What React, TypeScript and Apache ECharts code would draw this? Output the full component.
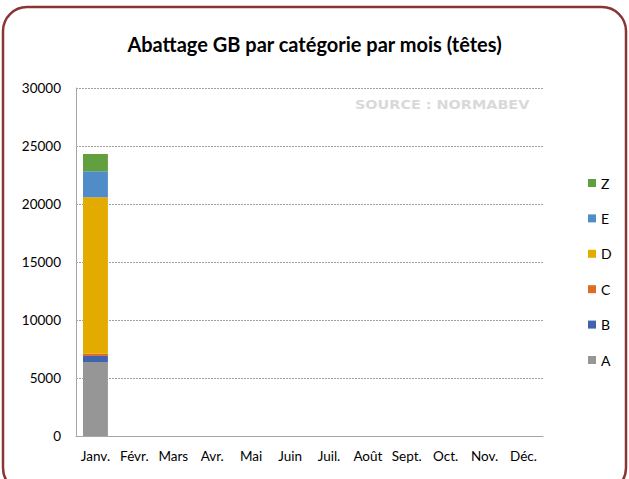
import React, { useEffect, useRef } from "react";
import * as echarts from "echarts";

const months = ["Janv.", "Févr.", "Mars", "Avr.", "Mai", "Juin", "Juil.", "Août", "Sept.", "Oct.", "Nov.", "Déc."];
const catA = [6380, null, null, null, null, null, null, null, null, null, null, null];
const catB = [520, null, null, null, null, null, null, null, null, null, null, null];
const catC = [200, null, null, null, null, null, null, null, null, null, null, null];
const catD = [13480, null, null, null, null, null, null, null, null, null, null, null];
const catE = [2240, null, null, null, null, null, null, null, null, null, null, null];
const catZ = [1490, null, null, null, null, null, null, null, null, null, null, null];
const yTicks = { min: 0, max: 30000, interval: 5000 };

const FONT = "Lato, 'Open Sans', sans-serif";

export default function App() {
  const ref = useRef<HTMLDivElement>(null);
  useEffect(() => {
    if (!ref.current) return;
    const chart = echarts.init(ref.current, null, { renderer: "svg" });
    const mk = (name: string, data: any[], color: string) => ({
      name,
      type: "bar",
      stack: "total",
      data,
      barWidth: "64%",
      itemStyle: { color },
    });
    chart.setOption({
      animation: false,
      backgroundColor: "#ffffff",
      textStyle: { fontFamily: FONT },
      title: {
        text: "Abattage GB par catégorie par mois (têtes)",
        left: "center",
        top: 29,
        textStyle: { fontSize: 20, fontWeight: "bold", color: "#000", fontFamily: FONT },
      },
      graphic: [
        {
          type: "rect",
          shape: { x: 3, y: 7, width: 623, height: 485, r: 24 },
          style: { fill: "none", stroke: "#8a3535", lineWidth: 2.5 },
          silent: true,
        },
        {
          type: "text",
          x: 355,
          y: 99,
          scaleX: 1.2,
          style: {
            text: "SOURCE : NORMABEV",
            fill: "#d9d9d9",
            font: "bold 12px 'DejaVu Sans', sans-serif",
          },
        },
      ],
      legend: {
        orient: "vertical",
        left: 583,
        top: 171,
        itemWidth: 8,
        itemHeight: 8,
        itemGap: 21.4,
        icon: "rect",
        data: ["Z", "E", "D", "C", "B", "A"],
        textStyle: { fontSize: 14, color: "#000", fontFamily: FONT },
      },
      grid: { left: 76, right: 86, top: 88, bottom: 43, containLabel: false },
      xAxis: {
        type: "category",
        data: months,
        axisLine: { lineStyle: { color: "#a6a6a6", width: 1 } },
        axisTick: { show: false },
        axisLabel: { fontSize: 13.5, color: "#000", margin: 13, interval: 0 },
      },
      yAxis: {
        type: "value",
        ...yTicks,
        axisLine: { show: true, lineStyle: { color: "#a6a6a6", width: 1 } },
        axisTick: { show: false },
        axisLabel: { fontSize: 13.5, color: "#000", margin: 15, formatter: (v: number) => String(v) },
        splitLine: { lineStyle: { type: [2, 1], color: "#a0a0a0", width: 1 } },
      },
      series: [
        mk("A", catA, "#969696"),
        mk("B", catB, "#3f63ad"),
        mk("C", catC, "#dd6c24"),
        mk("D", catD, "#e3ab00"),
        mk("E", catE, "#4f8cc8"),
        mk("Z", catZ, "#62a03f"),
      ],
    });
    return () => chart.dispose();
  }, []);
  return <div ref={ref} style={{ position: "absolute", left: 0, top: 0, width: 629, height: 479 }} />;
}
